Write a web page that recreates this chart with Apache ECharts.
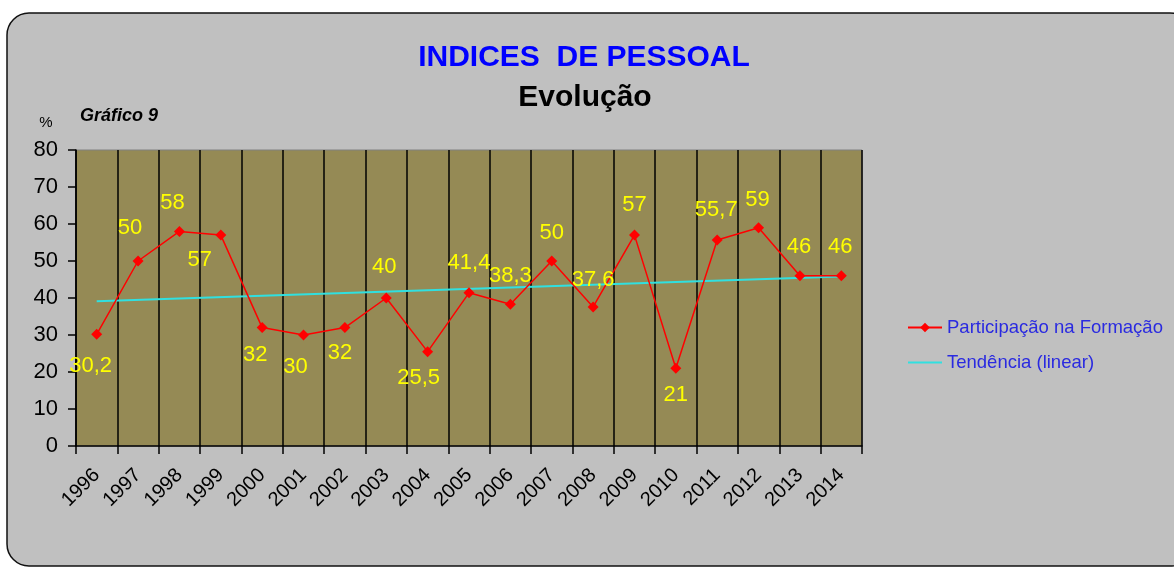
<!DOCTYPE html>
<html>
<head>
<meta charset="utf-8">
<script src="https://cdn.jsdelivr.net/npm/echarts@6/dist/echarts.min.js"></script>
<style>
  html, body { margin: 0; padding: 0; background: #fff; }
  #chart { width: 1174px; height: 570px; }
</style>
</head>
<body>
<div id="chart"></div>
<script>
// dados
const years = ['1996', '1997', '1998', '1999', '2000', '2001', '2002', '2003', '2004', '2005',
  '2006', '2007', '2008', '2009', '2010', '2011', '2012', '2013', '2014']
const participacao = [30.2, 50, 58, 57, 32, 30, 32, 40, 25.5, 41.4,
  38.3, 50, 37.6, 57, 21, 55.7, 59, 46, 46]
// tendência linear: só os extremos, o resto liga-se
const tendencia = [39.1, null, null, null, null, null, null, null, null, null,
  null, null, null, null, null, null, null, null, 45.8]
const yTicks = [0, 10, 20, 30, 40, 50, 60, 70, 80]

// deslocamento de cada etiqueta em relação ao ponto
const labelOffsets = [
  [-6, 32], [-8, -33], [-7, -28], [-21, 25], [-7, 27], [-8, 32], [-5, 25], [-2, -31],
  [-9, 26], [0, -30], [0, -28], [0, -28], [0, -27], [0, -30], [0, 27], [-1, -30],
  [-1, -28], [-1, -29], [-1, -29],
]

const font = 'Liberation Sans, Arial, sans-serif'
const myChart = echarts.init(document.getElementById('chart'))

const option = {
  animation: false,
  textStyle: { fontFamily: font },
  graphic: [
    {
      type: 'rect',
      z: -10,
      shape: { x: 7, y: 13, width: 1185, height: 553, r: 22 },
      style: { fill: '#C0C0C0', stroke: '#111', lineWidth: 1.5 },
    },
    {
      type: 'text',
      x: 584, y: 58,
      style: {
        text: 'INDICES  DE PESSOAL', fill: '#0000FF', font: 'bold 30px ' + font,
        textAlign: 'center', textVerticalAlign: 'middle',
      },
    },
    {
      type: 'text',
      x: 585, y: 98,
      style: {
        text: 'Evolução', fill: '#000', font: 'bold 30px ' + font,
        textAlign: 'center', textVerticalAlign: 'middle',
      },
    },
    {
      type: 'text',
      x: 46, y: 123,
      style: {
        text: '%', fill: '#000', font: '15px ' + font,
        textAlign: 'center', textVerticalAlign: 'middle',
      },
    },
    {
      type: 'text',
      x: 80, y: 116,
      style: {
        text: 'Gráfico 9', fill: '#000', font: 'italic bold 18px ' + font,
        textAlign: 'left', textVerticalAlign: 'middle',
      },
    },
  ],
  legend: {
    orient: 'vertical',
    left: 902,
    top: 313,
    itemWidth: 34,
    itemHeight: 12,
    itemGap: 16,
    textStyle: { color: '#2A2AE0', fontSize: 18.5, fontFamily: font },
    data: [
      { name: 'Participação na Formação' },
      { name: 'Tendência (linear)', itemStyle: { opacity: 0 } },
    ],
  },
  grid: {
    left: 76,
    right: 312,
    top: 150,
    bottom: 124,
    show: true,
    backgroundColor: '#958A55',
    borderColor: '#808080',
    borderWidth: 1,
  },
  xAxis: {
    type: 'category',
    data: years,
    boundaryGap: true,
    axisLine: { lineStyle: { color: '#000', width: 1.5 } },
    axisTick: { show: true, length: 8, lineStyle: { color: '#000', width: 1.5 } },
    splitLine: { show: true, lineStyle: { color: '#000', width: 1.5 } },
    axisLabel: { rotate: 45, color: '#000', fontSize: 20, margin: 26, fontFamily: font },
  },
  yAxis: {
    type: 'value',
    min: yTicks[0],
    max: yTicks[yTicks.length - 1],
    interval: 10,
    axisLine: { show: true, lineStyle: { color: '#000', width: 1.5 } },
    axisTick: { show: true, length: 8, lineStyle: { color: '#000', width: 1.5 } },
    splitLine: { show: false },
    axisLabel: { color: '#000', fontSize: 22, margin: 18, fontFamily: font },
  },
  series: [
    {
      name: 'Participação na Formação',
      type: 'line',
      data: participacao.map((v, i) => ({
        value: v,
        label: { offset: labelOffsets[i] },
      })),
      color: '#FF0000',
      lineStyle: { width: 1.5, color: '#FF0000' },
      symbol: 'diamond',
      symbolSize: 11,
      z: 3,
      label: {
        show: true,
        position: 'inside',
        align: 'center',
        verticalAlign: 'middle',
        color: '#FFFF00',
        fontSize: 22,
        fontFamily: font,
        formatter: (p) => String(p.value).replace('.', ','),
      },
    },
    {
      name: 'Tendência (linear)',
      type: 'line',
      data: tendencia,
      connectNulls: true,
      symbol: 'none',
      color: '#30E0E0',
      lineStyle: { width: 2, color: '#30E0E0' },
      z: 2,
    },
  ],
}

myChart.setOption(option)
</script>
</body>
</html>
